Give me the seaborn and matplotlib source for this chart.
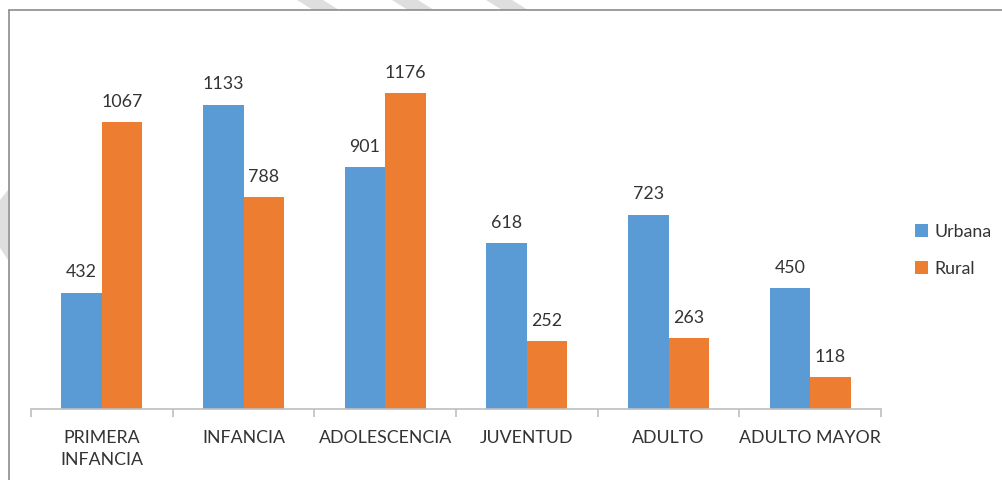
import matplotlib
matplotlib.use("Agg")
import matplotlib.pyplot as plt
from matplotlib.patches import Polygon
from matplotlib.lines import Line2D
import seaborn as sns
import pandas as pd

# Population by life stage and area
categories = ["PRIMERA\nINFANCIA", "INFANCIA", "ADOLESCENCIA", "JUVENTUD", "ADULTO", "ADULTO MAYOR"]
urbana = [432, 1133, 901, 618, 723, 450]
rural = [1067, 788, 1176, 252, 263, 118]
series = ["Urbana", "Rural"]
colors = ["#5B9BD5", "#ED7D31"]

df = pd.DataFrame({
    "etapa": categories * 2,
    "valor": urbana + rural,
    "zona": [series[0]] * len(categories) + [series[1]] * len(categories),
})

sns.set_theme(style="white")
plt.rcParams["font.family"] = ["Lato", "DejaVu Sans"]
text_color = "#333333"

W, H = 1002, 480
fig = plt.figure(figsize=(W / 100, H / 100), dpi=100)
fig.patch.set_facecolor("white")

# plot area in pixel terms: x 31..881, y 33..409
ax = fig.add_axes([31 / W, (H - 409) / H, 850 / W, (409 - 33) / H])
sns.barplot(data=df, x="etapa", y="valor", hue="zona", order=categories,
            hue_order=series, palette=colors, width=0.57, gap=0,
            saturation=1, errorbar=None, legend=False, linewidth=0,
            edgecolor="none", ax=ax)

for c in ax.containers:
    ax.bar_label(c, padding=9, fontsize=12.8, color=text_color)

ax.set_ylim(0, 1400)
ax.set_xlim(-0.5, len(categories) - 0.5)
ax.set_xlabel("")
ax.set_ylabel("")
ax.set_yticks([])
for side in ["left", "right", "top"]:
    ax.spines[side].set_visible(False)
ax.spines["bottom"].set_color("#BFBFBF")
ax.spines["bottom"].set_linewidth(1.2)

ax.set_xticks(range(len(categories)))
ax.set_xticklabels(categories, fontsize=12.8, color=text_color, linespacing=1.5)
ax.tick_params(axis="x", which="major", length=0, pad=15)
ax.set_xticks([i - 0.5 for i in range(len(categories) + 1)], minor=True)
ax.tick_params(axis="x", which="minor", length=6, width=1.2, color="#BFBFBF",
               direction="out", bottom=True)
for lbl in ax.get_xticklabels():
    lbl.set_verticalalignment("top")

# legend
handles = [plt.Rectangle((0, 0), 1, 1, facecolor=col, edgecolor="none") for col in colors]
fig.legend(handles, series, loc="upper left",
           bbox_to_anchor=(908 / W, (H - 217) / H), frameon=False,
           fontsize=12.8, labelcolor=text_color, handlelength=0.75,
           handleheight=0.75, handletextpad=0.35, labelspacing=1.15,
           borderaxespad=0)

# chart frame
frame_color = "#8C8C8C"
fig.add_artist(Line2D([9 / W, 9 / W], [0, (H - 10) / H], transform=fig.transFigure,
                      color=frame_color, lw=1.2))
fig.add_artist(Line2D([9 / W, 1.0], [(H - 10) / H, (H - 10) / H], transform=fig.transFigure,
                      color=frame_color, lw=1.2))

# light diagonal stripes of the page background
stripe = "#DEDEDE"
for x0 in [297, 392, 486]:
    pts = [(x0, 0), (x0 + 26, 0), (x0 + 42, 10), (x0 + 16, 10)]
    fig.add_artist(Polygon([(px / W, (H - py) / H) for px, py in pts],
                           closed=True, transform=fig.transFigure,
                           facecolor=stripe, edgecolor="none", zorder=-1))
pts = [(0, 200), (8, 190), (8, 260), (0, 248)]
fig.add_artist(Polygon([(px / W, (H - py) / H) for px, py in pts],
                       closed=True, transform=fig.transFigure,
                       facecolor=stripe, edgecolor="none", zorder=-1))

fig.savefig("out.png", dpi=100, facecolor="white")
